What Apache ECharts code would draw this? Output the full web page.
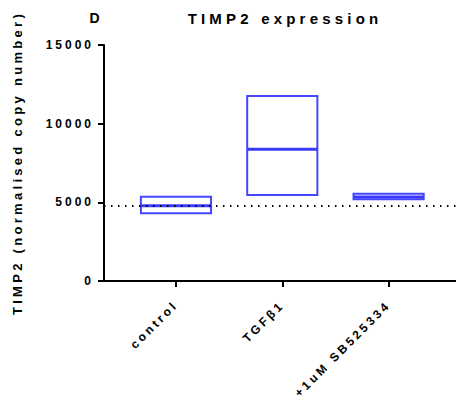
<!DOCTYPE html>
<html>
<head>
<meta charset="utf-8">
<script src="https://cdn.jsdelivr.net/npm/echarts@6/dist/echarts.min.js"></script>
<style>
  html, body { margin: 0; padding: 0; background: #fff; }
  #chart { width: 456px; height: 402px; }
  /* Prism-style wide tracking on the labels */
  #chart text { letter-spacing: 3px; }
  #chart text[style*="13px"] { letter-spacing: 3.3px; }
  #chart text[style*="15px"] { letter-spacing: 4.2px; }
</style>
</head>
<body>
<div id="chart"></div>
<script>
  const categories = ['control', 'TGF\u03b21', '+1uM SB525334']
  const lows = [4300, 5470, 5190]
  const highs = [5360, 11760, 5550]
  const means = [4790, 8370, 5340]
  const yTicks = [0, 5000, 10000, 15000]
  const refLine = 4790

  const FONT = '"Liberation Sans", Arial, sans-serif'
  const BLUE = '#4646ff'
  const HALF = 0.33

  const chart = echarts.init(document.getElementById('chart'), null, { renderer: 'svg' })

  const boxData = categories.map((c, i) => [i, lows[i], highs[i], means[i]])

  function renderBox(params, api) {
    const x = api.value(0)
    const tl = api.coord([x - HALF, api.value(2)])
    const br = api.coord([x + HALF, api.value(1)])
    const m1 = api.coord([x - HALF, api.value(3)])
    const m2 = api.coord([x + HALF, api.value(3)])
    return {
      type: 'group',
      children: [
        {
          type: 'rect',
          shape: { x: tl[0], y: tl[1], width: br[0] - tl[0], height: br[1] - tl[1] },
          style: { fill: 'none', stroke: BLUE, lineWidth: 2 }
        },
        {
          type: 'line',
          shape: { x1: m1[0], y1: m1[1], x2: m2[0], y2: m2[1] },
          style: { stroke: '#3a3aff', lineWidth: 3 }
        }
      ]
    }
  }

  chart.setOption({
    animation: false,
    title: [
      {
        text: 'TIMP2 expression',
        left: 280,
        top: 6,
        textAlign: 'center',
        textStyle: { fontFamily: FONT, fontSize: 15, fontWeight: 'bold', color: '#000' }
      },
      {
        text: 'D',
        left: 91,
        top: 6,
        textAlign: 'center',
        textStyle: { fontFamily: FONT, fontSize: 14, fontWeight: 'bold', color: '#000' }
      }
    ],
    grid: { left: 104, right: 0, top: 45, bottom: 121 },
    xAxis: {
      type: 'value',
      min: -0.677,
      max: 2.634,
      splitLine: { show: false },
      axisLine: { lineStyle: { color: '#000', width: 2 } },
      axisTick: { customValues: [0, 1, 2], length: 6, lineStyle: { color: '#000', width: 2 } },
      axisLabel: {
        customValues: [0, 1, 2],
        formatter: (v) => categories[Math.round(v)],
        rotate: 45,
        margin: 22,
        fontFamily: FONT,
        fontSize: 12,
        fontWeight: 'bold',
        color: '#000'
      }
    },
    yAxis: {
      type: 'value',
      min: yTicks[0],
      max: yTicks[yTicks.length - 1],
      interval: 5000,
      name: 'TIMP2 (normalised copy number)',
      nameLocation: 'middle',
      nameGap: 80,
      nameTextStyle: { fontFamily: FONT, fontSize: 13, fontWeight: 'bold', color: '#000' },
      splitLine: { show: false },
      axisLine: { show: true, onZero: false, lineStyle: { color: '#000', width: 2 } },
      axisTick: { show: true, length: 6, lineStyle: { color: '#000', width: 2 } },
      axisLabel: {
        margin: 10,
        formatter: (v) => String(v),
        fontFamily: FONT,
        fontSize: 12,
        fontWeight: 'bold',
        color: '#000'
      }
    },
    series: [
      {
        type: 'custom',
        renderItem: renderBox,
        data: boxData,
        encode: { x: 0, y: [1, 2] },
        markLine: {
          silent: true,
          symbol: 'none',
          label: { show: false },
          lineStyle: { color: '#000', type: [1.5, 5.5], width: 2 },
          data: [{ yAxis: refLine }]
        }
      }
    ]
  })
</script>
</body>
</html>
